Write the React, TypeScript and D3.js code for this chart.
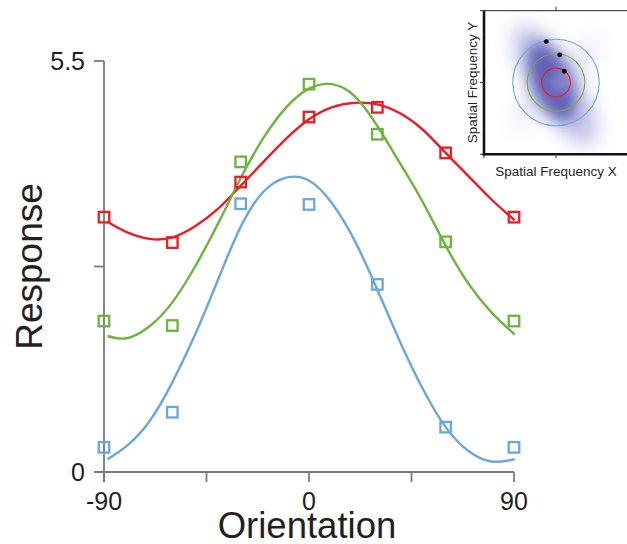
import React from "react";
import * as d3 from "d3";

// Measured responses at each tested orientation
const orientations = [-90, -60, -30, 0, 30, 60, 90];
const redResponse = [3.41, 3.07, 3.88, 4.75, 4.88, 4.27, 3.41];
const greenResponse = [2.02, 1.96, 4.15, 5.19, 4.52, 3.08, 2.02];
const blueResponse = [0.33, 0.8, 3.59, 3.58, 2.51, 0.6, 0.33];

// Fitted tuning curves, sampled every 10 degrees of orientation
const fitAngles = [-88.5, -80, -70, -60, -50, -40, -30, -20, -10, 0, 10, 20, 30, 40, 50, 60, 70, 80, 90.3];
const redFit = [3.35, 3.21, 3.12, 3.14, 3.29, 3.52, 3.83, 4.15, 4.46, 4.72, 4.88, 4.94, 4.92, 4.8, 4.58, 4.27, 3.96, 3.65, 3.37];
const greenFit = [1.82, 1.79, 1.95, 2.27, 2.75, 3.32, 3.93, 4.47, 4.88, 5.13, 5.19, 5.03, 4.63, 4.13, 3.61, 3.03, 2.52, 2.14, 1.84];
const blueFit = [0.17, 0.35, 0.68, 1.2, 1.84, 2.57, 3.28, 3.75, 3.94, 3.9, 3.6, 3.1, 2.44, 1.74, 1.11, 0.6, 0.28, 0.14, 0.17];

// Axis ticks
const xTicks = [-90, -45, 0, 45, 90];
const xTickLabels = ["-90", "", "0", "", "90"];
const yTicks = [0, 2.75, 5.5];
const yTickLabels = ["0", "", "5.5"];

// Inset: spectral rings (radius in normalised frequency) and peak markers
const ringRadii = [0.2, 0.4, 0.6];
const peakX = [-0.135, 0.051, 0.115];
const peakY = [0.57, 0.383, 0.157];

const RED = "#ed1c24";
const GREEN = "#6cb33f";
const BLUE = "#6aa7db";
const INK = "#231f20";
const FONT = "'Liberation Sans', Arial, Helvetica, sans-serif";

const series = [
  { color: RED, values: redResponse, fit: redFit },
  { color: GREEN, values: greenResponse, fit: greenFit },
  { color: BLUE, values: blueResponse, fit: blueFit },
];
const ringColors = [RED, GREEN, BLUE];

export default function App() {
  const W = 627;
  const H = 544;
  const x = d3.scaleLinear().domain([-90, 90]).range([104, 514]);
  const y = d3.scaleLinear().domain([0, 5.5]).range([472, 61]);

  const line = d3
    .line<[number, number]>()
    .x((d) => x(d[0]))
    .y((d) => y(d[1]))
    .curve(d3.curveNatural);

  // inset scales
  const ix = d3.scaleLinear().domain([-1, 1]).range([484, 628]);
  const iy = d3.scaleLinear().domain([-1, 1]).range([154.3, 10.7]);
  const r = (v: number) => ix(v) - ix(0);
  const cx = ix(0);
  const cy = iy(0);

  const sq = 10.5;

  return (
    <svg
      width={W}
      height={H}
      style={{ position: "absolute", left: 0, top: 0, background: "#fff" }}
      fontFamily={FONT}
    >
      <defs>
        <filter id="haze" x="-60%" y="-60%" width="220%" height="220%">
          <feGaussianBlur stdDeviation="7" />
        </filter>
        <filter id="hazeSoft" x="-60%" y="-60%" width="220%" height="220%">
          <feGaussianBlur stdDeviation="10" />
        </filter>
        <clipPath id="insetClip">
          <rect x={ix(-1)} y={iy(1)} width={ix(1) - ix(-1)} height={iy(-1) - iy(1)} />
        </clipPath>
      </defs>

      {/* axes */}
      <g stroke="#7a7a7a" strokeWidth={1.8} fill="none">
        <line x1={x(-90)} x2={x(-90)} y1={y(5.5)} y2={y(0) + 10} />
        <line x1={x(-90) - 10} x2={x(90)} y1={y(0)} y2={y(0)} />
        {xTicks.map((t) => (
          <line key={"xt" + t} x1={x(t)} x2={x(t)} y1={y(0)} y2={y(0) + 10} />
        ))}
        {yTicks.map((t) => (
          <line key={"yt" + t} x1={x(-90) - 10} x2={x(-90)} y1={y(t)} y2={y(t)} />
        ))}
      </g>
      <g fill={INK} fontSize={25}>
        {xTicks.map((t, i) =>
          xTickLabels[i] ? (
            <text key={"xl" + t} x={x(t)} y={y(0) + 38} textAnchor="middle">
              {xTickLabels[i]}
            </text>
          ) : null
        )}
        {yTicks.map((t, i) =>
          yTickLabels[i] ? (
            <text key={"yl" + t} x={x(-90) - 19} y={y(t) + 9} textAnchor="end">
              {yTickLabels[i]}
            </text>
          ) : null
        )}
      </g>
      <text x={307} y={538} fontSize={36.5} textAnchor="middle" fill={INK}>
        Orientation
      </text>
      <text
        transform={`translate(41.5, ${(y(0) + y(5.5)) / 2}) rotate(-90)`}
        fontSize={37}
        textAnchor="middle"
        fill={INK}
      >
        Response
      </text>

      {/* fitted curves */}
      {series.map((s, i) => (
        <path
          key={"fit" + i}
          d={line(fitAngles.map((a, j) => [a, s.fit[j]] as [number, number])) || ""}
          fill="none"
          stroke={s.color}
          strokeWidth={2.4}
        />
      ))}

      {/* data squares */}
      {series.map((s, i) => (
        <g key={"pts" + i} stroke={s.color} strokeWidth={2.3} fill="none">
          {orientations.map((o, j) => (
            <rect
              key={j}
              x={x(o) - sq / 2}
              y={y(s.values[j]) - sq / 2}
              width={sq}
              height={sq}
            />
          ))}
        </g>
      ))}

      {/* inset: spatial frequency power */}
      <g>
        <rect x={ix(-1)} y={iy(1)} width={ix(1) - ix(-1)} height={iy(-1) - iy(1)} fill="#fff" />
        <g clipPath="url(#insetClip)">
          <ellipse
            cx={cx}
            cy={cy}
            rx={r(0.16)}
            ry={r(0.85)}
            transform={`rotate(45 ${cx} ${cy})`}
            fill="#8a8ad0"
            opacity={0.22}
            filter="url(#hazeSoft)"
          />
          <ellipse
            cx={cx - 2}
            cy={cy + 2}
            rx={r(0.32)}
            ry={r(0.95)}
            transform={`rotate(-32 ${cx} ${cy})`}
            fill="#6c6cc4"
            opacity={0.45}
            filter="url(#hazeSoft)"
          />
          <ellipse
            cx={cx - 4}
            cy={cy - 2}
            rx={r(0.26)}
            ry={r(0.58)}
            transform={`rotate(-22 ${cx} ${cy})`}
            fill="#3a3aa6"
            opacity={0.7}
            filter="url(#haze)"
          />
          <ellipse
            cx={cx + 3}
            cy={cy}
            rx={r(0.1)}
            ry={r(0.14)}
            fill="#ffffff"
            opacity={0.35}
            filter="url(#haze)"
          />
        </g>
        {ringRadii.map((rr, i) => (
          <circle key={"ring" + i} cx={cx} cy={cy} r={r(rr)} fill="none" stroke={ringColors[i]} strokeWidth={1.1} />
        ))}
        {peakX.map((px, i) => (
          <circle key={"pk" + i} cx={ix(px)} cy={iy(peakY[i])} r={2.4} fill="#000" />
        ))}
        {/* frame */}
        <line x1={ix(-1)} x2={ix(1)} y1={iy(1)} y2={iy(1)} stroke="#222" strokeWidth={1} />
        <line x1={ix(1)} x2={ix(1)} y1={iy(1)} y2={iy(-1)} stroke="#222" strokeWidth={1} />
        <g stroke="#111" strokeWidth={2.6}>
          <line x1={ix(-1)} x2={ix(-1)} y1={iy(1)} y2={iy(-1) + 1.3} />
          <line x1={ix(-1) - 1.3} x2={ix(1)} y1={iy(-1)} y2={iy(-1)} />
        </g>
        <g stroke="#333" strokeWidth={1}>
          {[-1, 0, 1].map((v) => (
            <line key={"ilt" + v} x1={ix(-1) - 4} x2={ix(-1)} y1={iy(v)} y2={iy(v)} />
          ))}
          {[-1, 0, 1].map((v) => (
            <line key={"ibt" + v} x1={ix(v)} x2={ix(v)} y1={iy(-1)} y2={iy(-1) + 4} />
          ))}
          <line x1={cx} x2={cx} y1={iy(1) - 4} y2={iy(1)} />
        </g>
        <text x={cx} y={176} fontSize={13.5} textAnchor="middle" fill={INK}>
          Spatial Frequency X
        </text>
        <text
          transform={`translate(476.5, ${cy}) rotate(-90)`}
          fontSize={13.5}
          textAnchor="middle"
          fill={INK}
        >
          Spatial Frequency Y
        </text>
      </g>
    </svg>
  );
}
